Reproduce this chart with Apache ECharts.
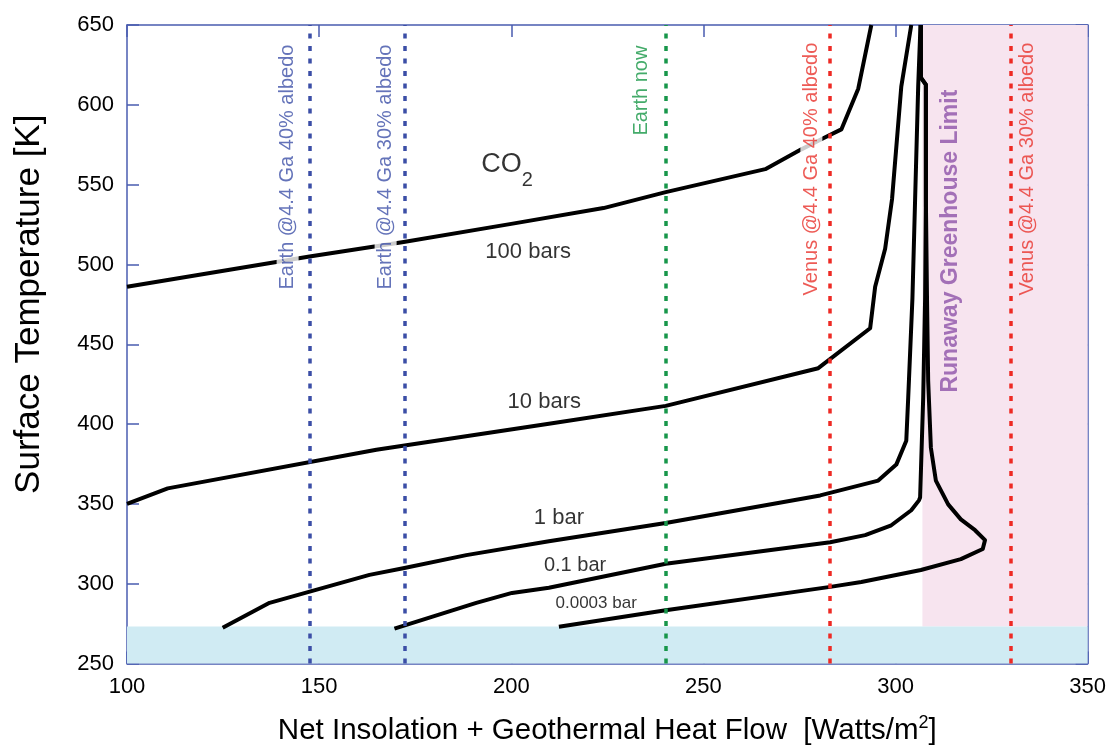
<!DOCTYPE html>
<html>
<head>
<meta charset="utf-8">
<script src="https://cdn.jsdelivr.net/npm/echarts@6/dist/echarts.min.js"></script>
<style>
html,body{margin:0;padding:0;background:#fff;}
#chart{width:1109px;height:751px;}
</style>
</head>
<body>
<div id="chart"></div>
<script>
// ---- data ----
var xTicks = [100, 150, 200, 250, 300, 350];
var yTicks = [250, 300, 350, 400, 450, 500, 550, 600, 650];

var bar100 = [[100,486],[147.5,505],[172,514],[200,525.4],[224,535.3],[240.2,545.3],[266.1,559.7],[275.5,572.1],[281.2,579],[285.9,584.6],[290.3,610.1],[293.7,650]];
var bar10 = [[100,350],[110.6,359.7],[164.9,383.9],[209.8,400.2],[240.2,411.4],[279.9,435],[293.4,460],[294.7,486],[297.3,509.8],[299.1,541],[301.5,611.4],[304.1,650]];
var bar1 = [[124.9,272.4],[137.1,288],[163.1,305.5],[172.2,309.8],[188.3,317.9],[209.8,326.6],[240.2,338],[280.4,355.3],[295.5,364.6],[300.2,374.6],[302.8,389.6],[303.3,416.4],[304.4,478.7],[305.1,541],[305.9,611.4],[306.5,650]];
var bar01 = [[169.6,271.8],[190.9,288],[200.2,294.2],[209.8,297.5],[240.2,312.5],[283,326],[292.1,330.4],[298.9,336.6],[304.1,346],[306.1,352.2],[306.4,354],[307.2,416.4],[307.7,478.7],[307.9,541],[307.9,612.6],[306.6,617],[306.6,650]];
var bar0003 = [[212.4,273],[240.2,283.3],[283,298],[291.1,301.1],[306.6,308.6],[317,315.4],[322.7,321.7],[323.3,327.3],[320.7,333.5],[317,340.3],[313.7,349.7],[310.5,364.6],[309.2,385.2],[308.5,427],[308.2,478],[307.9,541],[307.9,612.6],[306.6,617],[306.6,650]];

var refNames = ['Earth @4.4 Ga 40% albedo','Earth @4.4 Ga 30% albedo','Earth now','Venus @4.4 Ga 40% albedo','Venus @4.4 Ga 30% albedo'];
var refValues = [147.5, 172.2, 240.1, 283.0, 330.0];

var runawayLimit = 307;
var freezing = 273.15;

var curveNames = ['100 bars','10 bars','1 bar','0.1 bar','0.0003 bar'];

// ---- styles / annotation placement ----
var FONT = "'Liberation Sans', Arial, Helvetica, sans-serif";
var AXIS_COLOR = '#4a5cb0';
var refColors = ['#3b4ea6','#3b4ea6','#17964a','#ee2a24','#ee2a24'];
var refTextColors = ['#3d50a8','#3d50a8','#159645','#e8322c','#e8322c'];
var refLabelAnchor = [[141.8,639.6],[167.3,639.6],[233.8,639.0],[278.1,640.8],[334.4,640.8]];
var refLabelBg = [true,true,false,true,false];
var curveLabelAnchor = [[204.4,507.9],[208.6,413.9],[212.4,341.3],[216.6,311.7],[222.1,287.7]];
var curveLabelSize = [22,22,22,20,17];

var curves = [bar100, bar10, bar1, bar01, bar0003];

var series = [];
// shaded regions
series.push({
  type:'line', data:[[100,250]], symbol:'none', lineStyle:{width:0}, z:1, silent:true,
  markArea:{
    silent:true,
    data:[
      [{xAxis:runawayLimit, yAxis:freezing, itemStyle:{color:'#f7e4ef'}},{xAxis:350, yAxis:650}],
      [{xAxis:100, yAxis:250, itemStyle:{color:'#d0ebf3'}},{xAxis:350, yAxis:freezing}]
    ]
  }
});
// curves
curves.forEach(function(d,i){
  series.push({
    name:curveNames[i], type:'line', data:d, showSymbol:false, symbol:'none',
    lineStyle:{color:'#000', width:4, join:'round'}, z:3, clip:true, silent:true
  });
});
// reference vertical lines
series.push({
  type:'line', data:[[100,250]], symbol:'none', lineStyle:{width:0}, z:4, silent:true,
  markLine:{
    silent:true, symbol:['none','none'], label:{show:false},
    data: refValues.map(function(v,i){
      return {xAxis:v, lineStyle:{color:refColors[i], width:3.5, type:[5,7.5]}};
    })
  }
});
// text labels
var labelData = [];
refNames.forEach(function(n,i){
  labelData.push({
    value:refLabelAnchor[i],
    label:{show:true, formatter:n, rotate:90, align:'right', verticalAlign:'middle',
      position:'inside', color:refTextColors[i], fontSize:20, fontFamily:FONT,
      backgroundColor: refLabelBg[i] ? '#fff' : 'transparent', padding:[1,3]}
  });
});
curveNames.forEach(function(n,i){
  labelData.push({
    value:curveLabelAnchor[i],
    label:{show:true, formatter:n, position:'inside', align:'center', verticalAlign:'middle',
      color:'#000', fontSize:curveLabelSize[i], fontFamily:FONT}
  });
});
labelData.push({
  value:[192.2,570.8],
  label:{show:true, position:'inside', align:'left', verticalAlign:'top',
    formatter:'{a|CO}{b|2}',
    rich:{
      a:{fontSize:27, lineHeight:27, verticalAlign:'top', color:'#000', fontFamily:FONT},
      b:{fontSize:20, lineHeight:20, verticalAlign:'top', color:'#000', fontFamily:FONT, padding:[19,0,0,0]}
    }}
});
labelData.push({
  value:[314.3,609.5],
  label:{show:true, formatter:'Runaway Greenhouse Limit', rotate:90, align:'right', verticalAlign:'middle',
    position:'inside', color:'#8d52a9', fontSize:23, fontWeight:'bold', fontFamily:FONT}
});
series.push({
  type:'scatter', data:labelData, symbolSize:0, z:10, silent:true, clip:false
});

var axisCommon = {
  type:'value', splitLine:{show:false},
  axisLine:{show:true, lineStyle:{color:AXIS_COLOR, width:1.5}},
  axisTick:{show:true, inside:true, length:12, lineStyle:{color:AXIS_COLOR, width:1.5}}
};

var option = {
  animation:false,
  backgroundColor:'#fff',
  grid:{left:127, right:19, top:25, bottom:84},
  xAxis:[
    Object.assign({}, axisCommon, {
      position:'bottom', min:xTicks[0], max:xTicks[xTicks.length-1], interval:50,
      axisLabel:{show:true, margin:12, color:'#000', fontSize:22, fontFamily:FONT, showMinLabel:true, showMaxLabel:true},
      name:'Net Insolation + Geothermal Heat Flow  [Watts/m{s|2}]',
      nameLocation:'middle', nameGap:51,
      nameTextStyle:{color:'#000', fontSize:29.5, fontFamily:FONT,
        rich:{s:{fontSize:18, verticalAlign:'top', padding:[0,0,15,0], color:'#000', fontFamily:FONT}}}
    }),
    Object.assign({}, axisCommon, {
      position:'top', min:xTicks[0], max:xTicks[xTicks.length-1], interval:50,
      axisLabel:{show:false}
    })
  ],
  yAxis:[
    Object.assign({}, axisCommon, {
      position:'left', min:yTicks[0], max:yTicks[yTicks.length-1], interval:50,
      axisLabel:{show:true, margin:13, color:'#000', fontSize:22, fontFamily:FONT},
      name:'Surface Temperature [K]', nameLocation:'middle', nameGap:80, nameRotate:90,
      nameTextStyle:{color:'#000', fontSize:35, fontFamily:FONT, padding:[0,0,0,80]}
    }),
    Object.assign({}, axisCommon, {
      position:'right', min:yTicks[0], max:yTicks[yTicks.length-1], interval:50,
      axisLabel:{show:false}
    })
  ],
  series:series
};

var chart = echarts.init(document.getElementById('chart'), null, {renderer:'canvas'});
chart.setOption(option);
</script>
</body>
</html>
